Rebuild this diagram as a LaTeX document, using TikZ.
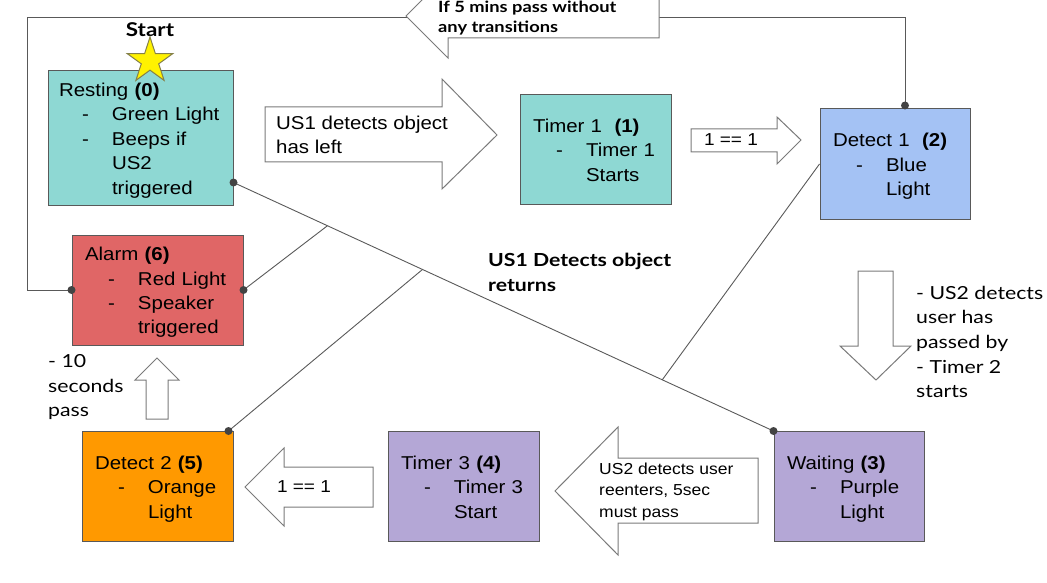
\documentclass[tikz,border=0pt]{standalone}
\usepackage{fontspec}
\setmainfont[FakeStretch=1.1]{Liberation Sans}
\newfontfamily\notefont[FakeStretch=1.18]{Lato}
\usetikzlibrary{shapes.geometric,calc}
\definecolor{restcol}{HTML}{8ED8D3}
\definecolor{detblue}{HTML}{A4C2F4}
\definecolor{alarmred}{HTML}{E06666}
\definecolor{purp}{HTML}{B4A7D6}
\definecolor{orng}{HTML}{FF9900}
\definecolor{edge}{HTML}{595959}
\definecolor{dotcol}{HTML}{434343}
\newcommand{\dashitem}[1]{\mbox{\makebox[53pt][l]{\hspace*{23pt}-}#1}}
\newcommand{\moreline}[1]{\mbox{\hspace*{53pt}#1}}
\newcommand{\boxfont}{\fontsize{18.6}{24.4}\selectfont}

\begin{document}
\begin{tikzpicture}[x=1pt,y=-1pt,
  statebox/.style={draw=edge,line width=1pt,rectangle,inner xsep=13pt,inner ysep=0pt,
    align=left,font=\boxfont,minimum height=110pt,
    execute at begin node={\rule{0pt}{18.5pt}},
    execute at end node={\rule[-4pt]{0pt}{4pt}}},
  blockarrow/.style={draw=edge!80,fill=white,line width=1pt,line join=miter},
  wire/.style={draw=edge,line width=0.9pt},
  dot/.style={fill=dotcol},
  note/.style={inner sep=0pt,align=left,anchor=west}]
   \useasboundingbox (0,0) rectangle (1047,583);

   % states
   \node[statebox,fill=restcol,text width=163pt,inner xsep=11pt,minimum height=134pt] (rest) at (140.5,138)
     {Resting \textbf{(0)}\\\dashitem{Green Light}\\\dashitem{Beeps if}\\\moreline{US2}\\\moreline{triggered}};
   \node[statebox,fill=restcol,text width=125pt] (tim1) at (595.5,149.5)
     {Timer 1\ \ \textbf{(1)}\\\dashitem{Timer 1}\\\moreline{Starts}};
   \node[statebox,fill=detblue,text width=124pt] (det1) at (895,164)
     {Detect 1\ \ \textbf{(2)}\\\dashitem{Blue}\\\moreline{Light}};
   \node[statebox,fill=purp,text width=124pt] (wait) at (849,486.5)
     {Waiting \textbf{(3)}\\\dashitem{Purple}\\\moreline{Light}};
   \node[statebox,fill=purp,text width=125pt] (tim3) at (463.5,486.5)
     {Timer 3 \textbf{(4)}\\\dashitem{Timer 3}\\\moreline{Start}};
   \node[statebox,fill=orng,text width=125pt] (det2) at (157.5,486.5)
     {Detect 2 \textbf{(5)}\\\dashitem{Orange}\\\moreline{Light}};
   \node[statebox,fill=alarmred,text width=145pt] (alarm) at (157.5,290)
     {Alarm \textbf{(6)}\\\dashitem{Red Light}\\\dashitem{Speaker}\\\moreline{triggered}};

   % connectors
   \coordinate (restdot) at ($(rest.south east)+(0,-23)$);
   \coordinate (d1top) at ($(det1.north)+(10,-3)$);
   \coordinate (d2dot) at ($(det2.north east)+(-5,0)$);
   \coordinate (loopL) at (27,17);
   \coordinate (j1) at ($(restdot)!0.174!(wait.north west)$);
   \coordinate (j2) at ($(restdot)!0.35!(wait.north west)$);
   \coordinate (j3) at ($(restdot)!0.794!(wait.north west)$);
   \draw[wire] (restdot) -- (wait.north west);
   \draw[wire] (alarm.east) -- (j1);
   \draw[wire] (d2dot) -- (j2);
   \draw[wire] (det1.west) -- (j3);
   \draw[wire] (d1top) |- (loopL) |- (alarm.west);
   \foreach \p in {restdot,wait.north west,alarm.east,alarm.west,d2dot,d1top} {
    \fill[dot] (\p) circle (4pt);
   }

   % block arrows
   \draw[blockarrow] (406,16) -- (448,-26) -- (448,-5) -- (659,-5) -- (659,38) -- (448,38) -- (448,58) -- cycle;
   \draw[blockarrow] (265,107) -- (442,107) -- (442,79) -- (497,135) -- (442,189) -- (442,162) -- (265,162) -- cycle;
   \draw[blockarrow] (691,129) -- (777,129) -- (777,117) -- (801,140) -- (777,164) -- (777,152) -- (691,152) -- cycle;
   \draw[blockarrow] (858,271) -- (893,271) -- (893,346) -- (911,346) -- (876,380) -- (840,346) -- (858,346) -- cycle;
   \draw[blockarrow] (555,491) -- (618,427) -- (618,458) -- (758,458) -- (758,523) -- (618,523) -- (618,555) -- cycle;
   \draw[blockarrow] (245,487) -- (284,448) -- (284,467) -- (373,467) -- (373,507) -- (284,507) -- (284,526) -- cycle;
   \draw[blockarrow] (157,358) -- (179,380) -- (168,380) -- (168,419) -- (146,419) -- (146,380) -- (135,380) -- cycle;

   % labels
   \node[note,font={\notefont\bfseries\fontsize{15.5}{20}\selectfont}] (fivemin) at (438,18) {If 5 mins pass without\\any transitions};
   \node[note,font={\fontsize{18.6}{24}\selectfont}] (hasleft) at (276,135) {US1 detects object\\has left};
   \node[font={\fontsize{17.3}{23}\selectfont},inner sep=0pt] (onetop) at (731,140) {1 == 1};
   \node[font={\fontsize{17.3}{23}\selectfont},inner sep=0pt] (onebot) at (304,487) {1 == 1};
   \node[note,font={\fontsize{15.9}{21.5}\selectfont}] (reenter) at (599,491.5) {US2 detects user\\reenters, 5sec\\must pass};
   \node[note,font={\notefont\bfseries\fontsize{18}{25}\selectfont}] (returns) at (488,272) {US1 Detects object\\returns};
   \node[note,font={\notefont\fontsize{18}{24.5}\selectfont}] (tensec) at (48,387.5) {- 10\\seconds\\pass};
   \node[note,font={\notefont\fontsize{18}{24.7}\selectfont}] (passedby) at (916,342) {- US2 detects\\user has\\passed by\\- Timer 2\\starts};
   \node[font={\notefont\bfseries\fontsize{19}{23}\selectfont},inner sep=0pt] (start) at (150,30) {Start};
   \node[star,star points=5,star point ratio=2.618,minimum size=48pt,inner sep=0pt,
     fill=yellow,draw=black!55!yellow,line width=1pt] (startstar) at (150,61) {};
  \end{tikzpicture}
\end{document}
